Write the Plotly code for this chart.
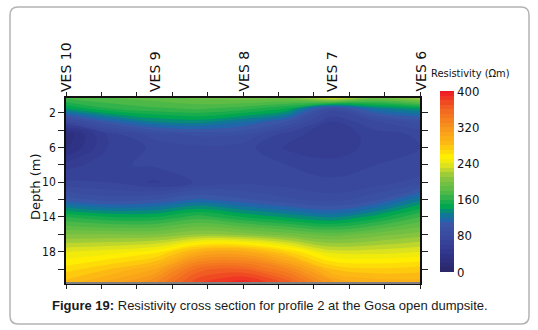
import plotly.graph_objects as go

# ---------------- data ----------------
ves_labels = ["VES 10", "VES 9", "VES 8", "VES 7", "VES 6"]
ves_pos = [0, 25, 50, 75, 100]

x_dist = [0, 12.5, 25, 37.5, 50, 62.5, 75, 87.5, 100]
depths = [0.3, 1.5, 3, 4.5, 6, 8, 10, 12, 14, 16, 18, 20, 21.6]

res_d0_3 = [172, 180, 185, 192, 195, 195, 235, 195, 215]
res_d1_5 = [140, 160, 168, 172, 165, 150, 85, 125, 140]
res_d3 = [75, 110, 130, 135, 122, 100, 60, 80, 95]
res_d4_5 = [22, 65, 85, 92, 90, 65, 52, 65, 72]
res_d6 = [28, 62, 72, 78, 75, 58, 52, 65, 70]
res_d8 = [55, 68, 72, 75, 78, 70, 65, 70, 72]
res_d10 = [72, 70, 58, 72, 78, 75, 72, 75, 85]
res_d12 = [105, 95, 100, 112, 102, 92, 85, 98, 128]
res_d14 = [160, 150, 150, 165, 150, 138, 128, 145, 170]
res_d16 = [200, 200, 200, 210, 205, 195, 185, 195, 205]
res_d18 = [240, 245, 255, 295, 300, 270, 235, 235, 240]
res_d20 = [265, 280, 300, 355, 360, 330, 280, 272, 275]
res_d21_6 = [285, 305, 330, 380, 398, 368, 312, 298, 295]

resistivity = [res_d0_3, res_d1_5, res_d3, res_d4_5, res_d6, res_d8, res_d10,
               res_d12, res_d14, res_d16, res_d18, res_d20, res_d21_6]

depth_ticks = [2, 4, 6, 8, 10, 12, 14, 16, 18, 20]
depth_ticktext = ["2", "", "6", "", "10", "", "14", "", "18", ""]
dist_ticks = [0, 10, 20, 30, 40, 50, 60, 70, 80, 90, 100]
cbar_ticks = [0, 80, 160, 240, 320, 400]

scale_vals = [0, 40, 80, 105, 118, 130, 145, 175, 210, 232, 252, 285, 320, 360, 400]
scale_cols = ["#2a2666", "#30358a", "#3a4a9f", "#3a56a6", "#1a69ab", "#0a808a",
              "#00a650", "#4cb848", "#8dc63f", "#d7df23", "#fff200", "#fdb913",
              "#f7941d", "#f26522", "#ed1c24"]

caption = "<b>Figure 19:</b> Resistivity cross section for profile 2 at the Gosa open dumpsite."

# ---------------- layout helpers ----------------
W, H = 538, 330
L, R, T, B = 66, 420, 98, 283
NARROW = "Liberation Sans Narrow, Arial Narrow, DejaVu Sans Condensed, Liberation Sans, sans-serif"
WIDE = "DejaVu Sans, Verdana, sans-serif"


def pxx(px):
    return (px - L) / (R - L)


def pxy(py):
    return (B - py) / (B - T)


def rounded_rect(x0, y0, x1, y1, r):
    pts = [
        ("M", pxx(x0 + r), pxy(y0)),
        ("L", pxx(x1 - r), pxy(y0)),
        ("Q", pxx(x1), pxy(y0), pxx(x1), pxy(y0 + r)),
        ("L", pxx(x1), pxy(y1 - r)),
        ("Q", pxx(x1), pxy(y1), pxx(x1 - r), pxy(y1)),
        ("L", pxx(x0 + r), pxy(y1)),
        ("Q", pxx(x0), pxy(y1), pxx(x0), pxy(y1 - r)),
        ("L", pxx(x0), pxy(y0 + r)),
        ("Q", pxx(x0), pxy(y0), pxx(x0 + r), pxy(y0)),
    ]
    s = ""
    for p in pts:
        nums = p[1:]
        s += p[0] + " " + " ".join(
            f"{nums[i]:.5f},{nums[i+1]:.5f}" for i in range(0, len(nums), 2)) + " "
    return s + "Z"


cs = [[v / 400, c] for v, c in zip(scale_vals, scale_cols)]

fig = go.Figure(go.Contour(
    x=x_dist, y=depths, z=resistivity,
    colorscale=cs, zmin=0, zmax=400, zauto=False,
    contours=dict(start=0, end=400, size=10, coloring="fill", showlines=False),
    line=dict(width=0, smoothing=1.1),
    hoverinfo="skip",
    colorbar=dict(
        thickness=14, len=181, lenmode="pixels",
        x=pxx(440), xanchor="left", xpad=0,
        y=pxy(181.5), yanchor="middle", ypad=0,
        tickvals=cbar_ticks, ticks="", outlinewidth=0,
        tickfont=dict(family=NARROW, size=13, color="#111"),
    ),
))

annotations = []
for lab, pos in zip(ves_labels, ves_pos):
    annotations.append(dict(
        x=pos, y=pxy(94), xref="x", yref="paper", text=lab, textangle=-90,
        xanchor="center", yanchor="bottom", showarrow=False,
        font=dict(family=WIDE, size=14, color="#111")))

annotations.append(dict(
    x=pxx(35), y=pxy(187), xref="paper", yref="paper", text="Depth (m)",
    textangle=-90, xanchor="center", yanchor="middle", showarrow=False,
    font=dict(family=WIDE, size=13, color="#111")))

annotations.append(dict(
    x=pxx(429), y=pxy(73), xref="paper", yref="paper", text="Resistivity (Ωm)",
    xanchor="left", yanchor="middle", showarrow=False,
    font=dict(family=NARROW, size=11, color="#111")))

annotations.append(dict(
    x=pxx(270), y=pxy(305), xref="paper", yref="paper", text=caption,
    xanchor="center", yanchor="middle", showarrow=False,
    font=dict(family="Liberation Sans, Arial, sans-serif", size=13, color="#1a1a1a")))

shapes = [
    dict(type="path", xref="paper", yref="paper",
         path=rounded_rect(10, 7, 529, 324, 8),
         line=dict(color="#b4b4b4", width=1.5), layer="below"),
    dict(type="line", xref="paper", yref="paper", x0=0, x1=1, y0=0, y1=0,
         line=dict(color="#808080", width=2)),
]

fig.update_layout(
    width=W, height=H,
    margin=dict(l=L, r=W - R, t=T, b=H - B, pad=0),
    paper_bgcolor="white", plot_bgcolor="white",
    showlegend=False,
    xaxis=dict(range=[0, 100], side="top", tickvals=dist_ticks,
               ticktext=[""] * len(dist_ticks), ticks="outside", ticklen=4,
               tickcolor="#222", showline=True, linecolor="#111", linewidth=1.5,
               mirror="ticks", showgrid=False, zeroline=False, fixedrange=True),
    yaxis=dict(range=[21.6, 0.3], tickvals=depth_ticks, ticktext=depth_ticktext,
               ticks="outside", ticklen=6, tickcolor="#222", showline=True,
               linecolor="#111", linewidth=1.5, mirror="ticks", showgrid=False,
               zeroline=False, tickfont=dict(family=NARROW, size=12, color="#111"),
               fixedrange=True),
    annotations=annotations,
    shapes=shapes,
)

fig.write_html("out.html", config={"displayModeBar": False},
               post_script="document.body.style.margin='0';")
